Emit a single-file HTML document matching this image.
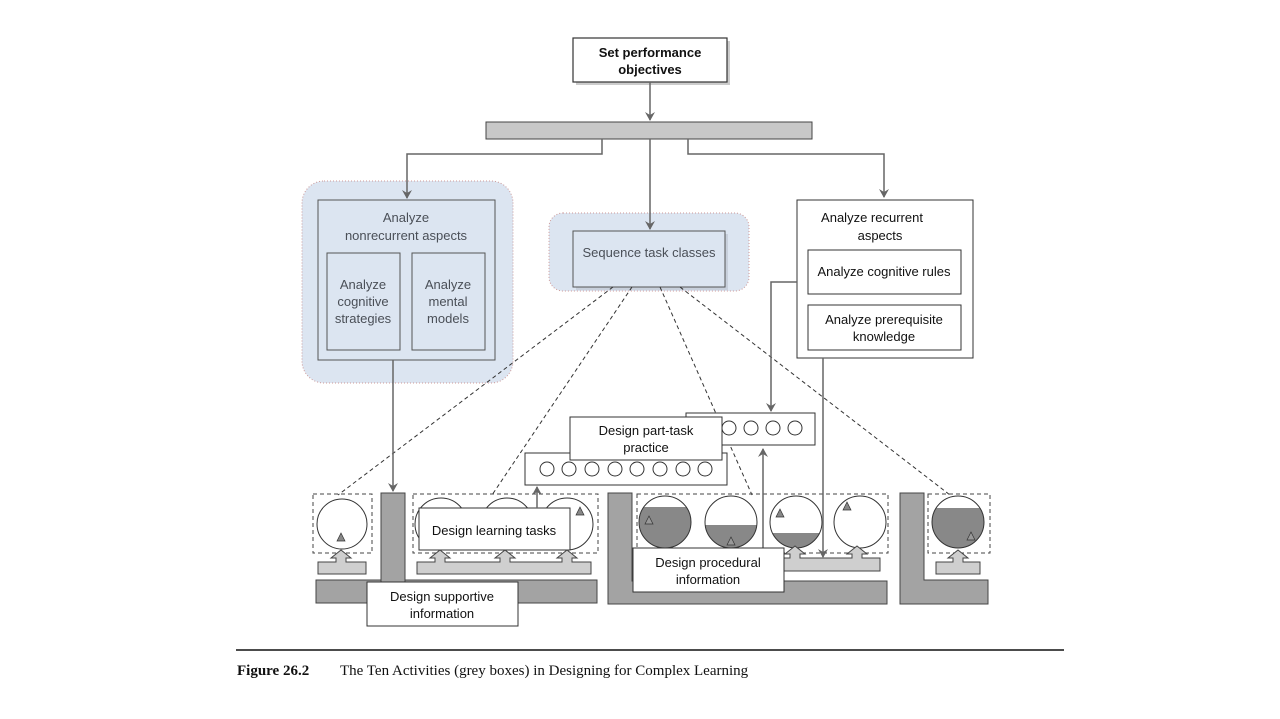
<!DOCTYPE html>
<html><head><meta charset="utf-8"><style>
html,body{margin:0;padding:0;background:#fff;}
svg{display:block;}
text{font-family:"Liberation Sans",Arial,sans-serif;font-size:13px;fill:#111;}
.g{fill:#4a4f57;}
</style></head><body>
<svg width="1280" height="719" viewBox="0 0 1280 719" xmlns="http://www.w3.org/2000/svg">
<defs>
<marker id="ar" markerWidth="10" markerHeight="10" refX="8" refY="5" orient="auto" markerUnits="userSpaceOnUse">
<path d="M0,0 L9,5 L0,10 L3,5 z" fill="#666"/></marker>
<clipPath id="c1"><circle cx="665" cy="522" r="26"/></clipPath>
<clipPath id="c2"><circle cx="731" cy="522" r="26"/></clipPath>
<clipPath id="c3"><circle cx="796" cy="522" r="26"/></clipPath>
<clipPath id="c5"><circle cx="958" cy="522" r="26"/></clipPath>
</defs>

<!-- top -->
<rect x="576" y="41" width="154" height="44" fill="#ccc"/>
<rect x="573" y="38" width="154" height="44" fill="#fff" stroke="#333" stroke-width="1.2"/>
<text x="650" y="57" text-anchor="middle" font-weight="bold">Set performance</text>
<text x="650" y="74" text-anchor="middle" font-weight="bold">objectives</text>
<line x1="650" y1="82" x2="650" y2="120" stroke="#666" stroke-width="1.5" marker-end="url(#ar)"/>
<rect x="486" y="122" width="326" height="17" fill="#c8c8c8" stroke="#444"/>

<!-- left blue -->
<rect x="302" y="181" width="211" height="202" rx="22" fill="#dce5f1" stroke="#c99" stroke-dasharray="1,2"/>
<rect x="318" y="200" width="177" height="160" fill="#dce5f1" stroke="#555"/>
<text x="406" y="222" text-anchor="middle" class="g">Analyze</text>
<text x="406" y="240" text-anchor="middle" class="g">nonrecurrent aspects</text>
<rect x="327" y="253" width="73" height="97" fill="#dce5f1" stroke="#555"/>
<rect x="412" y="253" width="73" height="97" fill="#dce5f1" stroke="#555"/>
<text x="363" y="289" text-anchor="middle" class="g">Analyze</text>
<text x="363" y="306" text-anchor="middle" class="g">cognitive</text>
<text x="363" y="323" text-anchor="middle" class="g">strategies</text>
<text x="448" y="289" text-anchor="middle" class="g">Analyze</text>
<text x="448" y="306" text-anchor="middle" class="g">mental</text>
<text x="448" y="323" text-anchor="middle" class="g">models</text>

<!-- center blue -->
<rect x="549" y="213" width="200" height="78" rx="14" fill="#dce5f1" stroke="#c99" stroke-dasharray="1,2"/>
<rect x="576" y="234" width="152" height="56" fill="#c8d0dc"/>
<rect x="573" y="231" width="152" height="56" fill="#dce5f1" stroke="#555"/>
<text x="649" y="257" text-anchor="middle" class="g">Sequence task classes</text>

<polyline points="602,139 602,154 407,154 407,198" fill="none" stroke="#666" stroke-width="1.5" marker-end="url(#ar)"/>
<line x1="650" y1="139" x2="650" y2="229" stroke="#666" stroke-width="1.5" marker-end="url(#ar)"/>
<polyline points="688,139 688,154 884,154 884,197" fill="none" stroke="#666" stroke-width="1.5" marker-end="url(#ar)"/>

<!-- right box -->
<rect x="797" y="200" width="176" height="158" fill="#fff" stroke="#333"/>
<text x="872" y="222" text-anchor="middle">Analyze recurrent</text>
<text x="880" y="240" text-anchor="middle">aspects</text>
<rect x="808" y="250" width="153" height="44" fill="#fff" stroke="#333"/>
<text x="884" y="276" text-anchor="middle">Analyze cognitive rules</text>
<rect x="808" y="305" width="153" height="45" fill="#fff" stroke="#333"/>
<text x="884" y="324" text-anchor="middle">Analyze prerequisite</text>
<text x="884" y="341" text-anchor="middle">knowledge</text>

<!-- dashed -->
<g stroke="#333" stroke-dasharray="4,3" stroke-width="1">
<line x1="613" y1="287" x2="338" y2="495"/>
<line x1="632" y1="287" x2="492" y2="495"/>
<line x1="660" y1="287" x2="752" y2="495"/>
<line x1="680" y1="287" x2="950" y2="495"/>
</g>

<!-- connectors -->
<line x1="393" y1="360" x2="393" y2="491" stroke="#666" stroke-width="1.5" marker-end="url(#ar)"/>
<polyline points="797,282 771,282 771,411" fill="none" stroke="#666" stroke-width="1.5" marker-end="url(#ar)"/>

<!-- part task boxes -->
<rect x="686" y="413" width="129" height="32" fill="#fff" stroke="#333"/>
<g fill="#fff" stroke="#333">
<circle cx="729" cy="428" r="7"/><circle cx="751" cy="428" r="7"/><circle cx="773" cy="428" r="7"/><circle cx="795" cy="428" r="7"/>
</g>
<rect x="525" y="453" width="202" height="32" fill="#fff" stroke="#333"/>
<g fill="#fff" stroke="#333">
<circle cx="547" cy="469" r="7"/><circle cx="569" cy="469" r="7"/><circle cx="592" cy="469" r="7"/><circle cx="615" cy="469" r="7"/><circle cx="637" cy="469" r="7"/><circle cx="660" cy="469" r="7"/><circle cx="683" cy="469" r="7"/><circle cx="705" cy="469" r="7"/>
</g>
<rect x="570" y="417" width="152" height="43" fill="#fff" stroke="#333"/>
<text x="646" y="435" text-anchor="middle">Design part-task</text>
<text x="646" y="452" text-anchor="middle">practice</text>

<!-- L bars -->
<g fill="#a3a3a3" stroke="#444">
<rect x="316" y="580" width="281" height="23"/>
<rect x="381" y="493" width="24" height="100"/>
<path d="M608,493 H632 V581 H887 V604 H608 Z"/>
<path d="M900,493 H924 V580 H988 V604 H900 Z"/>
</g>

<!-- group 1 -->
<rect x="313" y="494" width="59" height="59" fill="none" stroke="#444" stroke-dasharray="4,3"/>
<circle cx="342" cy="524" r="25" fill="#fff" stroke="#333"/>
<polygon points="341,533 337,541 345,541" fill="#888" stroke="#333" stroke-width="0.7"/>

<!-- group 2 -->
<rect x="413" y="494" width="185" height="59" fill="none" stroke="#444" stroke-dasharray="4,3"/>
<circle cx="441" cy="524" r="26" fill="#fff" stroke="#333"/>
<circle cx="507" cy="524" r="26" fill="#fff" stroke="#333"/>
<circle cx="567" cy="524" r="26" fill="#fff" stroke="#333"/>
<polygon points="580,507 576,515 584,515" fill="#888" stroke="#333" stroke-width="0.7"/>
<rect x="419" y="508" width="151" height="42" fill="#fff" stroke="#333"/>
<text x="494" y="535" text-anchor="middle">Design learning tasks</text>
<line x1="537" y1="508" x2="537" y2="487" stroke="#666" stroke-width="1.5" marker-end="url(#ar)"/>

<!-- group 3 -->
<rect x="637" y="494" width="251" height="59" fill="none" stroke="#444" stroke-dasharray="4,3"/>
<circle cx="665" cy="522" r="26" fill="#fff"/>
<rect x="630" y="507" width="70" height="50" fill="#888" clip-path="url(#c1)"/>
<circle cx="665" cy="522" r="26" fill="none" stroke="#333"/>
<circle cx="731" cy="522" r="26" fill="#fff"/>
<rect x="700" y="525" width="70" height="30" fill="#888" clip-path="url(#c2)"/>
<circle cx="731" cy="522" r="26" fill="none" stroke="#333"/>
<circle cx="796" cy="522" r="26" fill="#fff"/>
<rect x="765" y="533" width="70" height="20" fill="#888" clip-path="url(#c3)"/>
<circle cx="796" cy="522" r="26" fill="none" stroke="#333"/>
<circle cx="860" cy="522" r="26" fill="#fff" stroke="#333"/>
<polygon points="649,516 645,524 653,524" fill="#999" stroke="#333" stroke-width="0.7"/>
<polygon points="731,537 727,545 735,545" fill="#999" stroke="#333" stroke-width="0.7"/>
<polygon points="780,509 776,517 784,517" fill="#888" stroke="#333" stroke-width="0.7"/>
<polygon points="847,502 843,510 851,510" fill="#888" stroke="#333" stroke-width="0.7"/>

<!-- group 4 -->
<rect x="928" y="494" width="62" height="59" fill="none" stroke="#444" stroke-dasharray="4,3"/>
<circle cx="958" cy="522" r="26" fill="#fff"/>
<rect x="930" y="508" width="60" height="45" fill="#888" clip-path="url(#c5)"/>
<circle cx="958" cy="522" r="26" fill="none" stroke="#333"/>
<polygon points="971,532 967,540 975,540" fill="#999" stroke="#333" stroke-width="0.7"/>

<!-- light bars with block arrows -->
<g fill="#cfcfcf" stroke="#444">
<path d="M318,562 H336 V558 H331 L341,550 L351,558 H346 V562 H366 V574 H318 Z"/>
<path d="M417,562 H435 V558 H430 L440,550 L450,558 H445 V562 H500 V558 H495 L505,550 L515,558 H510 V562 H562 V558 H557 L567,550 L577,558 H572 V562 H591 V574 H417 Z"/>
<path d="M784,558 H790 V554 H785 L795,546 L805,554 H800 V558 H852 V554 H847 L857,546 L867,554 H862 V558 H880 V571 H784 Z"/>
<path d="M936,562 H953 V558 H948 L958,550 L968,558 H963 V562 H980 V574 H936 Z"/>
</g>

<line x1="823" y1="358" x2="823" y2="557" stroke="#666" stroke-width="1.5" marker-end="url(#ar)"/>
<line x1="763" y1="580" x2="763" y2="449" stroke="#666" stroke-width="1.5" marker-end="url(#ar)"/>

<rect x="633" y="548" width="151" height="44" fill="#fff" stroke="#333"/>
<text x="708" y="567" text-anchor="middle">Design procedural</text>
<text x="708" y="584" text-anchor="middle">information</text>

<rect x="367" y="582" width="151" height="44" fill="#fff" stroke="#333"/>
<text x="442" y="601" text-anchor="middle">Design supportive</text>
<text x="442" y="618" text-anchor="middle">information</text>

<!-- caption -->
<line x1="236" y1="650" x2="1064" y2="650" stroke="#111" stroke-width="1.5"/>
<text x="237" y="675" style="font-family:'Liberation Serif',serif;font-size:15px;font-weight:bold">Figure 26.2</text>
<text x="340" y="675" style="font-family:'Liberation Serif',serif;font-size:15px">The Ten Activities (grey boxes) in Designing for Complex Learning</text>
</svg>
</body></html>
